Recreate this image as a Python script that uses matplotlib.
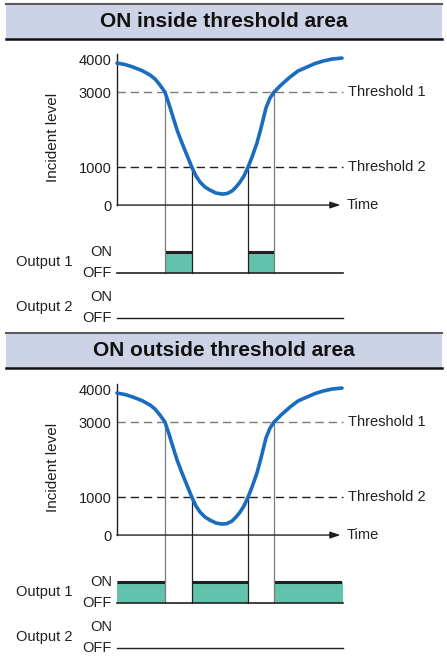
import matplotlib.pyplot as plt
from matplotlib.patches import Rectangle
from matplotlib.lines import Line2D

plt.rcParams["font.family"] = ["Liberation Sans", "DejaVu Sans"]

# incident level over time (same signal in both panels)
time = [0.0, 0.36, 0.71, 1.11, 1.47, 1.69, 1.91, 2.13, 2.31, 2.49, 2.67,
        2.89, 3.33, 3.51, 3.69, 3.91, 4.13, 4.40, 4.67, 4.89, 5.11, 5.29,
        5.47, 5.64, 5.82, 6.00, 6.22, 6.40, 6.62, 6.80, 6.98, 7.29, 7.69,
        8.04, 8.44, 8.80, 9.16, 9.56, 10.0]
level = [3770, 3730, 3663, 3570, 3451, 3345, 3186, 3000, 2681, 2336, 1991,
         1646, 1000, 770, 611, 478, 398, 319, 292, 305, 372, 478,
         611, 770, 1000, 1274, 1646, 2044, 2575, 2840, 3000, 3186, 3398,
         3557, 3663, 3756, 3823, 3876, 3902]

level_ticks = [0, 1000, 3000, 4000]
threshold_levels = [3000, 1000]
threshold_labels = ["Threshold 1", "Threshold 2"]
cross_t1 = [2.13, 6.98]
cross_t2 = [3.33, 5.82]

panel_titles = ["ON inside threshold area", "ON outside threshold area"]
output1_on = [
    [(2.13, 3.33), (5.82, 6.98)],
    [(0.0, 2.13), (3.33, 5.82), (6.98, 10.05)],
]

W, H = 447, 660
ink = "#231f20"
grey = "#7a7a7a"
teal = "#62c2ab"
blue = "#1a6dbe"

# output rows, placed below the level axis
OUT1_ON, OUT1_OFF = -1240, -1800
OUT2_ON, OUT2_OFF = -2430, -3005
t_end = 10.05

fig = plt.figure(figsize=(W / 100, H / 100), dpi=100)

for k, title in enumerate(panel_titles):
    off = 330 * k
    boff = 329 * k

    # title band
    fig.add_artist(Rectangle((6 / W, 1 - (39 + boff) / H), 436 / W, 35 / H,
                             transform=fig.transFigure, fc="#cdd3e6", ec="none"))
    fig.add_artist(Line2D([6 / W, 442 / W], [1 - (4 + boff) / H] * 2,
                          transform=fig.transFigure, color="#5a5a5a", lw=1.5))
    fig.add_artist(Line2D([6 / W, 442 / W], [1 - (39 + boff) / H] * 2,
                          transform=fig.transFigure, color="#111111", lw=1.8))
    fig.text(224 / W, 1 - (21.5 + boff) / H, title, ha="center", va="center",
             fontsize=15, fontweight="bold", color="#111111")

    ax = fig.add_axes([117 / W, 1 - (50.6 + off + 275) / H, 225 / W, 275 / H])
    ax.set_xlim(0, 10)
    ax.set_ylim(-3200, 4100)
    ax.patch.set_visible(False)
    for s in ["top", "right", "bottom"]:
        ax.spines[s].set_visible(False)
    ax.spines["left"].set_bounds(0, 4000)
    ax.spines["left"].set_color(ink)
    ax.spines["left"].set_linewidth(1.0)
    ax.set_xticks([])
    ax.set_yticks(level_ticks)
    ax.set_yticklabels([str(v) for v in level_ticks])
    ax.tick_params(axis="y", length=0, pad=4, labelsize=10.5, labelcolor=ink)
    ax.get_yticklabels()[-1].set_va("top")

    ax.text(-2.84, 1800, "Incident level", rotation=90, ha="center",
            va="center", fontsize=11, color=ink)

    # thresholds
    for thr, lab, c in zip(threshold_levels, threshold_labels, [grey, ink]):
        ax.plot([0, t_end], [thr, thr], ls=(0, (6.0, 3.5)), lw=1.0, color=c,
                clip_on=False)
        ax.text(10.27, thr, lab, ha="left", va="center", fontsize=10.5,
                color=ink)

    # time axis
    ax.annotate("", xy=(9.93, 0), xytext=(0, 0),
                arrowprops=dict(arrowstyle="-|>,head_length=0.6,head_width=0.2",
                                lw=1.0, color=ink, shrinkA=0, shrinkB=0))
    ax.text(10.22, 0, "Time", ha="left", va="center", fontsize=10.5, color=ink)

    # output 1 fill
    for a, b in output1_on[k]:
        ax.fill_between([a, b], OUT1_OFF, OUT1_ON, color=teal, lw=0)
        ax.plot([a, b], [OUT1_ON, OUT1_ON], color=ink, lw=2.2,
                solid_capstyle="butt")

    # crossing verticals
    for t in cross_t1:
        ax.plot([t, t], [OUT1_OFF, 3000], color=grey, lw=0.9)
    for t in cross_t2:
        ax.plot([t, t], [OUT1_OFF, 1000], color=ink, lw=0.9)

    ax.plot([0, t_end], [OUT1_OFF, OUT1_OFF], color=ink, lw=1.2,
            clip_on=False)
    ax.plot([0, t_end], [OUT2_OFF, OUT2_OFF], color=ink, lw=1.0,
            clip_on=False)

    for y_on, y_off, name in [(OUT1_ON, OUT1_OFF, "Output 1"),
                              (OUT2_ON, OUT2_OFF, "Output 2")]:
        ax.text(-0.22, y_on, "ON", ha="right", va="center", fontsize=10.5,
                color=ink)
        ax.text(-0.22, y_off, "OFF", ha="right", va="center", fontsize=10.5,
                color=ink)
        ax.text(-1.96, (y_on + y_off) / 2, name, ha="right", va="center",
                fontsize=10.5, color=ink)

    ax.plot(time, level, color=blue, lw=2.6, solid_capstyle="round",
            solid_joinstyle="round", clip_on=False, zorder=5)

fig.savefig("out.png", dpi=100)
plt.close(fig)
